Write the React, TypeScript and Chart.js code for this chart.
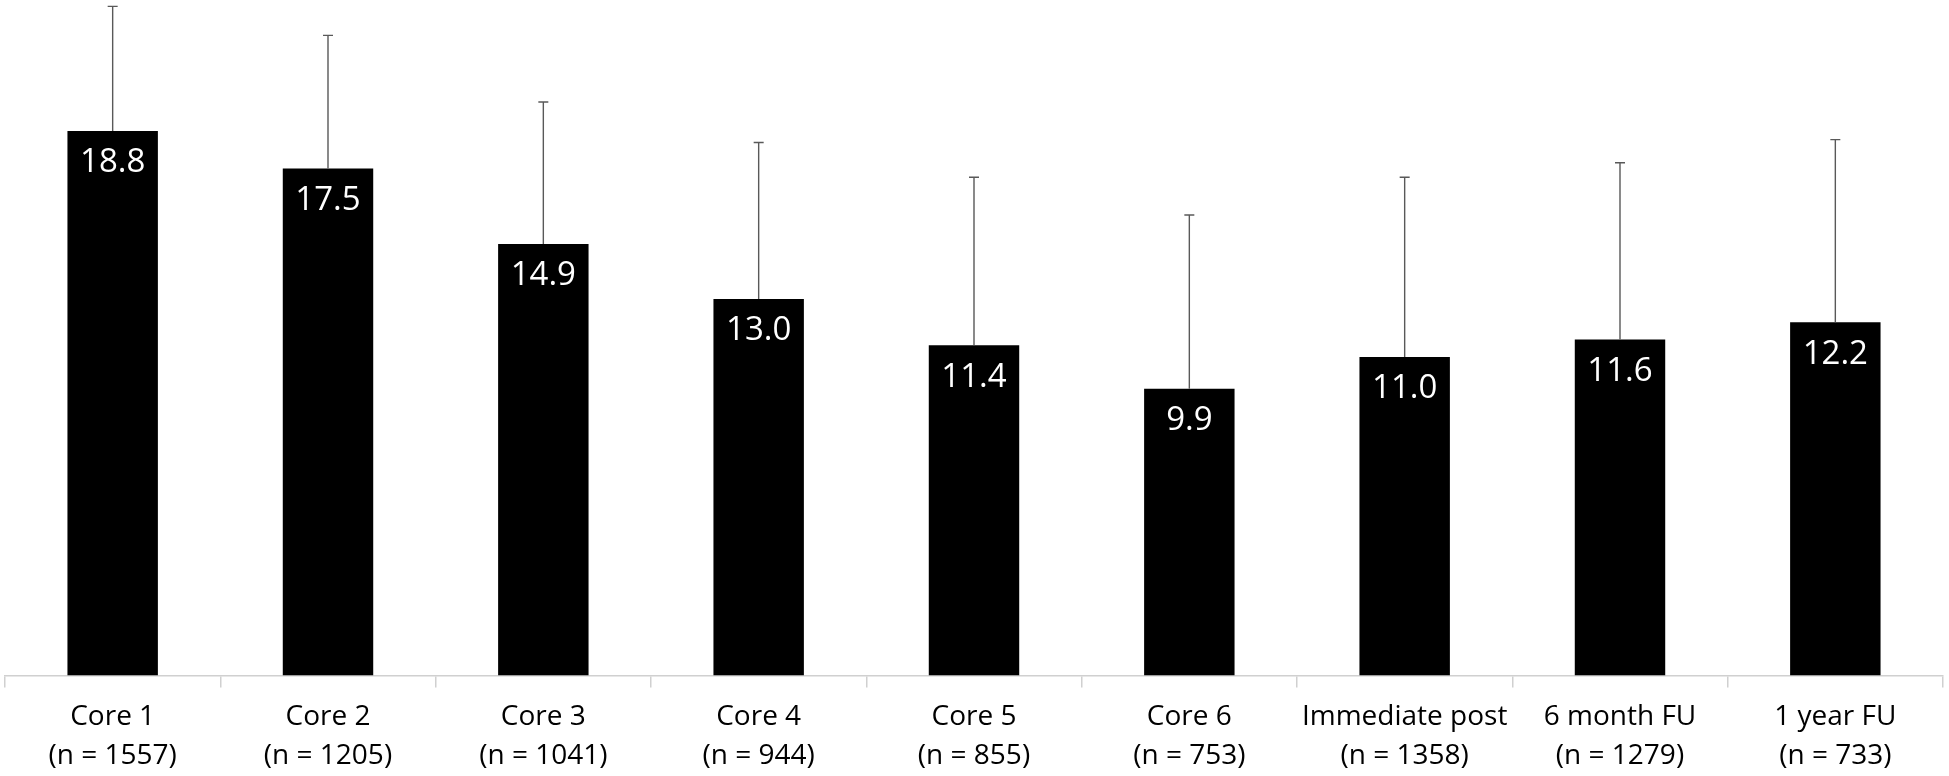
import React, { useEffect, useRef } from 'react';
import { Chart, registerables } from 'chart.js';

Chart.register(...registerables);

const categories = ['Core 1', 'Core 2', 'Core 3', 'Core 4', 'Core 5', 'Core 6', 'Immediate post', '6 month FU', '1 year FU'];
const sampleSizes = ['1557', '1205', '1041', '944', '855', '753', '1358', '1279', '733'];
const means = [18.8, 17.5, 14.9, 13.0, 11.4, 9.9, 11.0, 11.6, 12.2];
const errors = [4.3, 4.6, 4.9, 5.4, 5.8, 6.0, 6.2, 6.1, 6.3];

const FONT = "'Open Sans', 'Liberation Sans', Arial, sans-serif";

// upward-only error bars, drawn from the bar's value through the y scale
const errorBarPlugin = {
  id: 'errorBars',
  afterDatasetsDraw(chart: any) {
    const ctx = chart.ctx;
    const meta = chart.getDatasetMeta(0);
    const yScale = chart.scales.y;
    ctx.save();
    ctx.strokeStyle = '#595959';
    ctx.lineWidth = 1.4;
    meta.data.forEach((bar: any, i: number) => {
      const top = yScale.getPixelForValue(means[i] + errors[i]);
      const base = yScale.getPixelForValue(means[i]);
      ctx.beginPath();
      ctx.moveTo(bar.x, base);
      ctx.lineTo(bar.x, top);
      ctx.moveTo(bar.x - 5, top);
      ctx.lineTo(bar.x + 5, top);
      ctx.stroke();
    });
    ctx.restore();
  },
};

// white value labels just inside the top of each bar
const valueLabelPlugin = {
  id: 'valueLabels',
  afterDatasetsDraw(chart: any) {
    const ctx = chart.ctx;
    const meta = chart.getDatasetMeta(0);
    ctx.save();
    ctx.fillStyle = '#ffffff';
    ctx.font = `33px ${FONT}`;
    ctx.textAlign = 'center';
    ctx.textBaseline = 'middle';
    meta.data.forEach((bar: any, i: number) => {
      ctx.fillText(means[i].toFixed(1), bar.x, bar.y + 32);
    });
    ctx.restore();
  },
};

export default function App() {
  const canvasRef = useRef<HTMLCanvasElement>(null);

  useEffect(() => {
    if (!canvasRef.current) return;
    const chart = new Chart(canvasRef.current, {
      type: 'bar',
      data: {
        labels: categories.map((c, i) => [c, `(n = ${sampleSizes[i]})`]),
        datasets: [
          {
            data: means,
            backgroundColor: '#000000',
            borderWidth: 0,
            categoryPercentage: 1,
            barPercentage: 0.42,
          },
        ],
      },
      options: {
        animation: false,
        responsive: true,
        maintainAspectRatio: false,
        layout: { padding: { left: 5, right: 6, top: 0, bottom: 2 } },
        plugins: {
          legend: { display: false },
          tooltip: { enabled: false },
        },
        scales: {
          x: {
            grid: {
              display: true,
              offset: true,
              drawOnChartArea: false,
              drawTicks: true,
              tickLength: 12,
              color: '#d0d0d0',
              lineWidth: 1.5,
            },
            border: { display: true, color: '#d0d0d0', width: 1.5 },
            ticks: {
              color: '#000000',
              padding: 10,
              font: { family: FONT, size: 28, lineHeight: 1.4 },
              maxRotation: 0,
              autoSkip: false,
            },
          },
          y: {
            display: false,
            min: 0,
            max: 23.32,
          },
        },
      },
      plugins: [errorBarPlugin, valueLabelPlugin],
    });
    return () => chart.destroy();
  }, []);

  // taller than the window so the axis sits where the reference has it; the extra strip is cut off
  return (
    <div style={{ position: 'fixed', left: 0, top: 0, width: 1949, height: 776, overflow: 'hidden', background: '#ffffff' }}>
      <div style={{ position: 'relative', width: 1949, height: 788 }}>
        <canvas ref={canvasRef} />
      </div>
    </div>
  );
}
